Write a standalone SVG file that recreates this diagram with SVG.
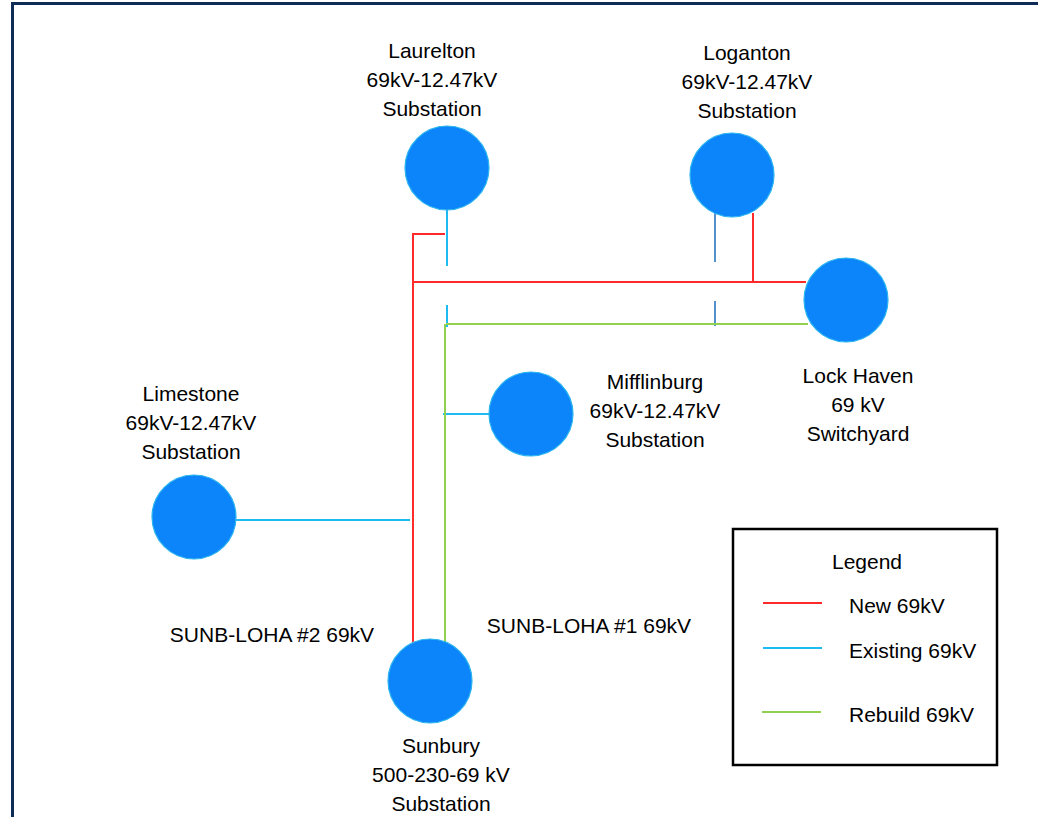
<svg xmlns="http://www.w3.org/2000/svg" width="1038" height="817" viewBox="0 0 1038 817">
<style>
text{font-family:"Liberation Sans",Arial,sans-serif;font-size:21px;fill:#000;text-anchor:middle}
.node{fill:#0b85f9;stroke:#2ab4f0;stroke-width:1.2}
.red{stroke:#ff2a2a;stroke-width:2;fill:none}
.blue{stroke:#1ebbf2;stroke-width:2;fill:none}
.dblue{stroke:#2a74c2;stroke-width:1.6;fill:none}
.green{stroke:#92d050;stroke-width:2;fill:none}
.lt{text-anchor:start}
</style>
<rect width="1038" height="817" fill="#fff"/>
<path d="M12.5 817 V3.5 H1038" fill="none" stroke="#0e2c55" stroke-width="3"/>
<g id="connectors">
<path class="blue" d="M447 210 V266"/>
<path class="blue" d="M447 305 V327"/>
<path class="blue" d="M443 414 H489"/>
<path class="blue" d="M236 520 H410"/>
<path class="dblue" d="M715 212 V262"/>
<path class="dblue" d="M715 301 V326"/>
<path class="red" d="M445 234 H413 V642"/>
<path class="red" d="M413 282 H806"/>
<path class="red" d="M753 213 V282"/>
<path class="green" d="M446 324 H808"/>
<path class="green" d="M445 324 V644"/>
</g>
<g id="laurelton">
<circle class="node" cx="447" cy="168" r="42"/>
<text x="432" y="58">Laurelton</text>
<text x="432" y="87">69kV-12.47kV</text>
<text x="432" y="116">Substation</text>
</g>
<g id="loganton">
<circle class="node" cx="732" cy="175" r="42"/>
<text x="747" y="60">Loganton</text>
<text x="747" y="89">69kV-12.47kV</text>
<text x="747" y="118">Substation</text>
</g>
<g id="lockhaven">
<circle class="node" cx="846" cy="300" r="42"/>
<text x="858" y="383">Lock Haven</text>
<text x="858" y="412">69 kV</text>
<text x="858" y="441">Switchyard</text>
</g>
<g id="mifflinburg">
<circle class="node" cx="531" cy="414" r="42"/>
<text x="655" y="389">Mifflinburg</text>
<text x="655" y="418">69kV-12.47kV</text>
<text x="655" y="447">Substation</text>
</g>
<g id="limestone">
<circle class="node" cx="194" cy="517" r="42"/>
<text x="191" y="401">Limestone</text>
<text x="191" y="430">69kV-12.47kV</text>
<text x="191" y="459">Substation</text>
</g>
<g id="sunbury">
<circle class="node" cx="430" cy="681" r="42"/>
<text x="441" y="753">Sunbury</text>
<text x="441" y="782">500-230-69 kV</text>
<text x="441" y="811">Substation</text>
</g>
<g id="line-labels">
<text x="272" y="642">SUNB-LOHA #2 69kV</text>
<text x="589" y="633">SUNB-LOHA #1 69kV</text>
</g>
<g id="legend">
<rect x="733" y="529" width="264" height="236" fill="#fff" stroke="#000" stroke-width="2.5"/>
<text x="867" y="569">Legend</text>
<line class="red" x1="763" y1="603" x2="822" y2="603"/>
<text class="lt" x="849" y="613">New 69kV</text>
<line class="blue" x1="763" y1="648" x2="822" y2="648"/>
<text class="lt" x="849" y="658">Existing 69kV</text>
<line class="green" x1="762" y1="712" x2="821" y2="712"/>
<text class="lt" x="849" y="722">Rebuild 69kV</text>
</g>
</svg>
